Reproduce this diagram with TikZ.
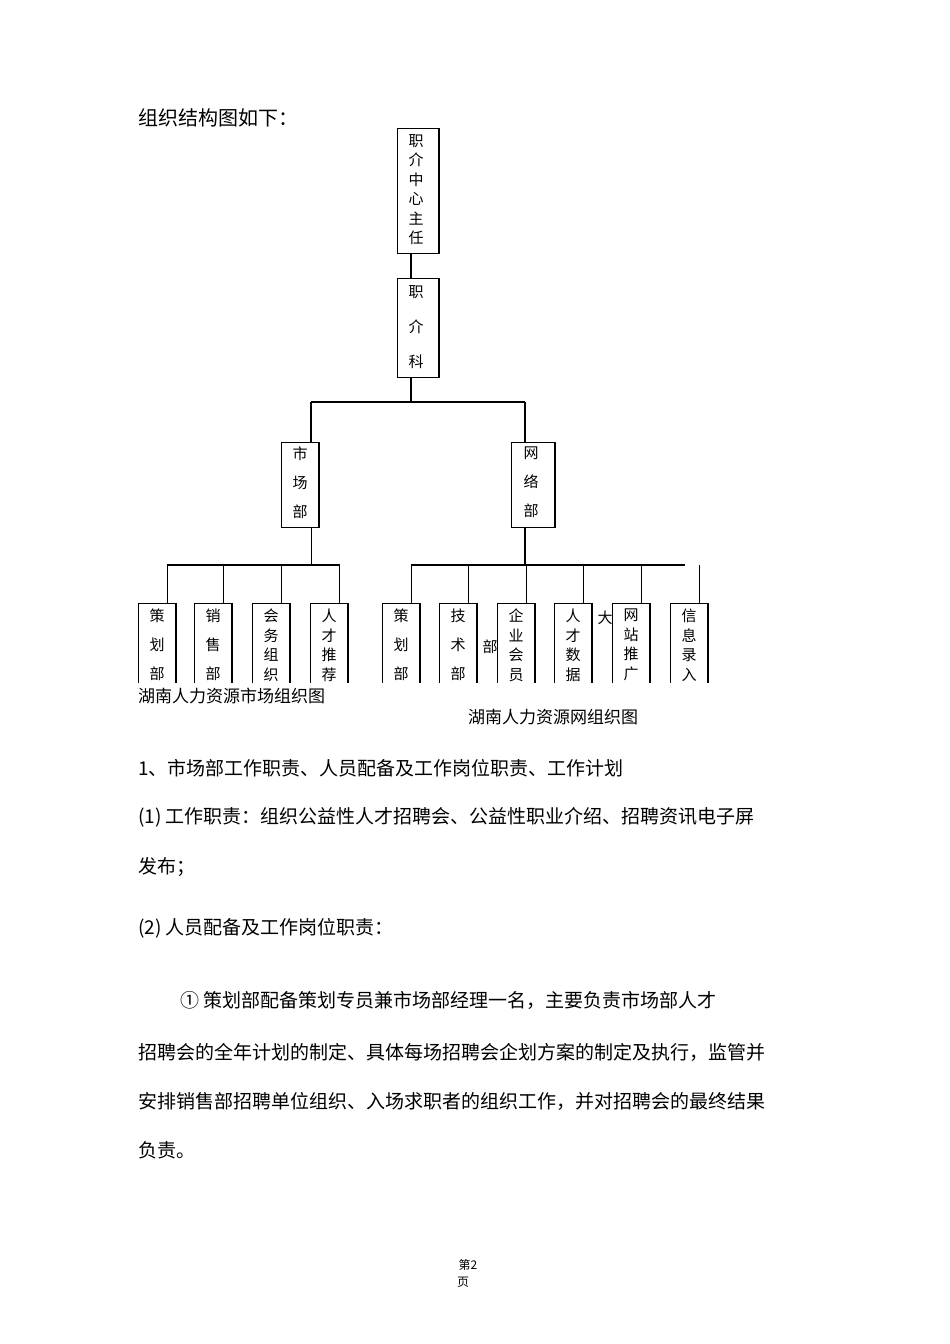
\documentclass[tikz,border=0pt]{standalone}
\usepackage{fontspec}
\setmainfont{Noto Sans CJK SC}
\begin{document}
\begin{tikzpicture}[x=1pt,y=-1pt,
  ln/.style={line width=1.1pt},
  bx/.style={line width=0.8pt},
  vt/.style={anchor=north,inner sep=0pt,align=center,font=\fontsize{15}{#1}\selectfont},
  body/.style={anchor=west,inner sep=0pt,font=\fontsize{19}{19}\selectfont},
  captext/.style={anchor=west,inner sep=0pt,font=\fontsize{17}{17}\selectfont}]
\useasboundingbox (0,0) rectangle (950,1344);
% top boxes
\draw[bx] (397,128) rectangle (439,253);
\draw[line width=1.6pt] (439,128) -- (439,253);
\node[vt=19.5] (zr) at (416,134) {职\\介\\中\\心\\主\\任};
\draw[bx] (397,278) rectangle (439,377);
\draw[line width=1.6pt] (439,278) -- (439,377);
\node[vt=35] (zk) at (416,285) {职\\介\\科};
\coordinate (a1) at (411,253); \coordinate (a2) at (411,278);
\draw[ln] (a1) -- (a2);
\coordinate (b1) at (411,377); \coordinate (b2) at (411,402);
\draw[ln] (b1) -- (b2);
\coordinate (hl) at (311,402); \coordinate (hr) at (525,402);
\draw[ln] (hl) -- (hr);
\coordinate (sc) at (311,442); \coordinate (wl) at (525,442);
\draw[ln] (hl) -- (sc); \draw[ln] (hr) -- (wl);
\draw[bx] (281,442) rectangle (319,527);
\draw[line width=1.6pt] (319,442) -- (319,527);
\node[vt=29] (scb) at (300,447) {市\\场\\部};
\draw[bx] (511,442) rectangle (555,527);
\draw[line width=1.6pt] (555,442) -- (555,527);
\node[vt=29] (wlb) at (531,447) {网\\络\\部};
\coordinate (s2) at (311,527); \coordinate (s3) at (311,565);
\draw[bx] (s2) -- (s3);
\coordinate (w2) at (525,527); \coordinate (w3) at (525,565);
\draw[ln] (w2) -- (w3);
\coordinate (ll) at (167,565); \coordinate (lr) at (340,565);
\draw[ln] (ll) -- (lr);
\coordinate (rl) at (411,565); \coordinate (rr) at (685,565);
\draw[ln] (rl) -- (rr);
% bottom boxes
\foreach \x/\t/\s [count=\i] in {138/{策\\划\\部}/29,194/{销\\售\\部}/29,252/{会\\务\\组\\织}/19.5,310/{人\\才\\推\\荐}/19.5,
  382/{策\\划\\部}/29,439/{技\\术\\部}/29,497/{企\\业\\会\\员}/19.5,554/{人\\才\\数\\据}/19.5,612/{网\\站\\推\\广}/19.5,670/{信\\息\\录\\入}/19.5}{
  \draw[bx] (\x,683) -- (\x,603) -- (\x+38,603);
  \draw[line width=1.6pt] (\x+38,603) -- (\x+38,683);
  \draw[bx] (\x+29,565) -- (\x+29,603);
  \node[vt=\s] (c\i) at (\x+19,609) {\t};
}
\node[inner sep=0pt,font=\fontsize{15}{15}\selectfont] (bu) at (490,647) {部};
\node[inner sep=0pt,font=\fontsize{15}{15}\selectfont] (da) at (605,618) {大};
\fill[white] (130,684) rectangle (720,700);
\node[captext] (cap1) at (138,696) {湖南人力资源市场组织图};
\node[captext] (cap2) at (468,717) {湖南人力资源网组织图};
% text
\node[anchor=west,inner sep=0pt,font=\fontsize{20}{20}\selectfont] (hd) at (138,118) {组织结构图如下：};
\node[body] (t1) at (138,768) {1、市场部工作职责、人员配备及工作岗位职责、工作计划};
\node[body] (t2) at (138,817) {(1) 工作职责：组织公益性人才招聘会、公益性职业介绍、招聘资讯电子屏};
\node[body] (t3) at (138,867) {发布；};
\node[body] (t4) at (138,928) {(2) 人员配备及工作岗位职责：};
\node[body] (t5) at (180,1000) {① 策划部配备策划专员兼市场部经理一名，主要负责市场部人才};
\node[body] (t6) at (138,1052) {招聘会的全年计划的制定、具体每场招聘会企划方案的制定及执行，监管并};
\node[body] (t7) at (138,1101) {安排销售部招聘单位组织、入场求职者的组织工作，并对招聘会的最终结果};
\node[body] (t8) at (138,1150) {负责。};
\node[inner sep=0pt,font=\fontsize{12}{12}\selectfont] (p1) at (468,1265) {第2};
\node[inner sep=0pt,font=\fontsize{12}{12}\selectfont] (p2) at (463,1282) {页};
\end{tikzpicture}
\end{document}
